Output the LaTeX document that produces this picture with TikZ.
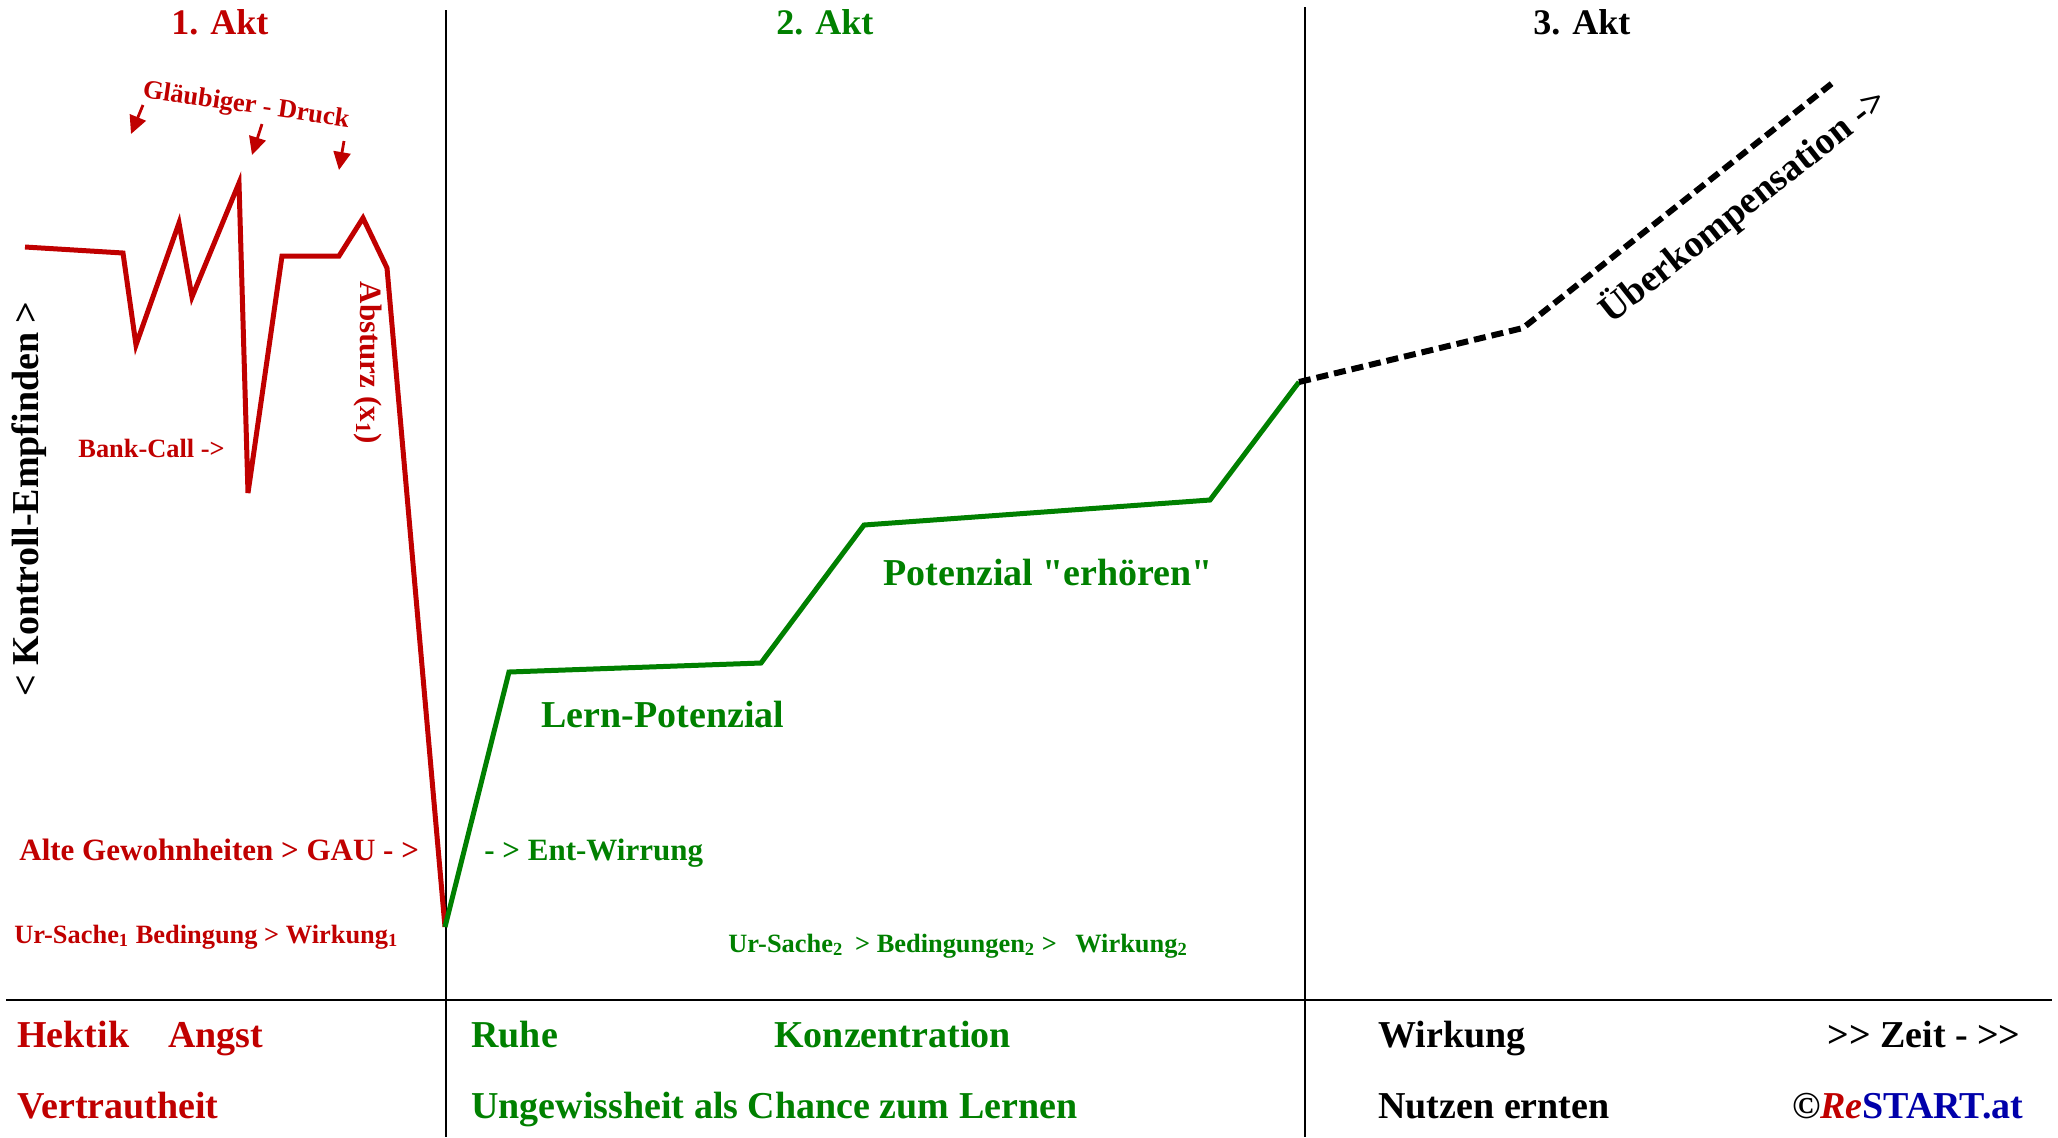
\documentclass[tikz,border=0pt]{standalone}
\usepackage{fontspec}
\setmainfont{Liberation Serif}[Ligatures=TeXOff]
\usetikzlibrary{arrows.meta}
\definecolor{akred}{RGB}{192,0,0}
\definecolor{akgreen}{RGB}{0,128,0}
\definecolor{akblue}{RGB}{0,0,170}
\newcommand\pxf[1]{\fontsize{#1}{#1}\selectfont}
\begin{document}
\begin{tikzpicture}[x=0.5pt,y=-0.5pt,
  lbl/.style={inner sep=0pt, anchor=base west},
  szA/.style={font=\bfseries\pxf{19pt}},
  szT/.style={font=\bfseries\pxf{18pt}},
  szB/.style={font=\bfseries\pxf{15.5pt}},
  szC/.style={font=\bfseries\pxf{13.2pt}},
  szD/.style={font=\bfseries\pxf{13.2pt}},
  redl/.style={lbl, text=akred},
  greenl/.style={lbl, text=akgreen},
  blackl/.style={lbl, text=black},
  rot/.style={inner sep=0pt, anchor=center},
  thinline/.style={line width=0.7pt, black},
  redline/.style={line width=2.5pt, akred},
  greenline/.style={line width=2.5pt, akgreen},
  dashline/.style={line width=3pt, black, dash pattern=on 6pt off 3pt},
  arr/.style={line width=1.4pt, akred, -{Triangle[length=9pt,width=8.5pt]}}
]
\useasboundingbox (0,0) rectangle (2058,1137);

% frame lines
\coordinate (v1t) at (446,10);   \coordinate (v1b) at (446,1137);
\coordinate (v2t) at (1305,7);   \coordinate (v2b) at (1305,1137);
\coordinate (hl) at (6,1000);    \coordinate (hr) at (2052,1000);
\draw[thinline] (v1t) -- (v1b);
\draw[thinline] (v2t) -- (v2b);
\draw[thinline] (hl) -- (hr);

% red curve
\coordinate (r1) at (25,247);
\coordinate (r2) at (123,253);
\coordinate (r3) at (136,345);
\coordinate (r4) at (179,223);
\coordinate (r5) at (192,297);
\coordinate (r6) at (239,183);
\coordinate (r7) at (248,493);
\coordinate (r8) at (282,256);
\coordinate (r9) at (339,256);
\coordinate (r10) at (363,218);
\coordinate (r11) at (387,268);
\coordinate (r12) at (445,927);
\draw[redline] (r1) -- (r2) -- (r3) -- (r4) -- (r5) -- (r6) -- (r7) -- (r8) -- (r9) -- (r10) -- (r11) -- (r12);

% green curve
\coordinate (g2) at (509,672);
\coordinate (g3) at (761,663);
\coordinate (g4) at (864,525);
\coordinate (g5) at (1210,500);
\coordinate (g6) at (1299,382);
\draw[greenline] (r12) -- (g2) -- (g3) -- (g4) -- (g5) -- (g6);

% dashed continuation
\coordinate (d2) at (1523,328);
\coordinate (d3) at (1835,81);
\draw[dashline] (g6) -- (d2) -- (d3);

% creditor pressure arrows
\coordinate (a1s) at (143,105); \coordinate (a1e) at (131,134);
\coordinate (a2s) at (262,124); \coordinate (a2e) at (252,155);
\coordinate (a3s) at (344,141); \coordinate (a3e) at (339,170);
\draw[arr] (a1s) -- (a1e);
\draw[arr] (a2s) -- (a2e);
\draw[arr] (a3s) -- (a3e);

% act titles
\node[redl, szT] (akt1) at (171,34) {1. Akt};
\node[greenl, szT] (akt2) at (776,34) {2. Akt};
\node[blackl, szT] (akt3) at (1533,34) {3. Akt};

% rotated labels
\node[rot, szD, text=akred, rotate=-8.3] (glaeub) at (246,106) {Gläubiger - Druck};
\node[rot, szB, text=akred, rotate=-90] (absturz) at (368,363) {Absturz (x\textsubscript{1})};
\node[rot, szA, text=black, rotate=90] (kontroll) at (29,499) {< Kontroll-Empfinden >};
\node[rot, szA, text=black, rotate=38.3] (ueber) at (1743,206) {Überkompensation ->};

% chart labels
\node[redl, szD] (bank) at (78,457) {Bank-Call ->};
\node[redl, szB] (alte) at (19,860) {Alte Gewohnheiten > GAU - >};
\node[redl, szC] (urs1) at (14,943) {Ur-Sache\textsubscript{1} Bedingung > Wirkung\textsubscript{1}};
\node[greenl, szB] (entw) at (484,860) {- > Ent-Wirrung};
\node[greenl, szA] (lern) at (541,727) {Lern-Potenzial};
\node[greenl, szA] (poten) at (883,585) {Potenzial "erhören"};
\node[greenl, szC] (urs2) at (728,952) {Ur-Sache\textsubscript{2}\hspace{0.45em}> Bedingungen\textsubscript{2} >\hspace{0.7em}Wirkung\textsubscript{2}};

% bottom rows
\node[redl, szA] (hektik) at (17,1047) {Hektik};
\node[redl, szA] (angst) at (168,1047) {Angst};
\node[redl, szA] (vertr) at (17,1118) {Vertrautheit};
\node[greenl, szA] (ruhe) at (471,1047) {Ruhe};
\node[greenl, szA] (konz) at (774,1047) {Konzentration};
\node[greenl, szA] (ungew) at (471,1118) {Ungewissheit als Chance zum Lernen};
\node[blackl, szA] (wirk) at (1378,1047) {Wirkung};
\node[blackl, szA] (nutzen) at (1378,1118) {Nutzen ernten};
\node[blackl, szA, anchor=base east] (zeit) at (2021,1047) {>> Zeit - >>};
\node[blackl, szA, anchor=base east] (restart) at (2024,1118) {©\textcolor{akred}{\textit{Re}}\textcolor{akblue}{START.at}};
\end{tikzpicture}
\end{document}
